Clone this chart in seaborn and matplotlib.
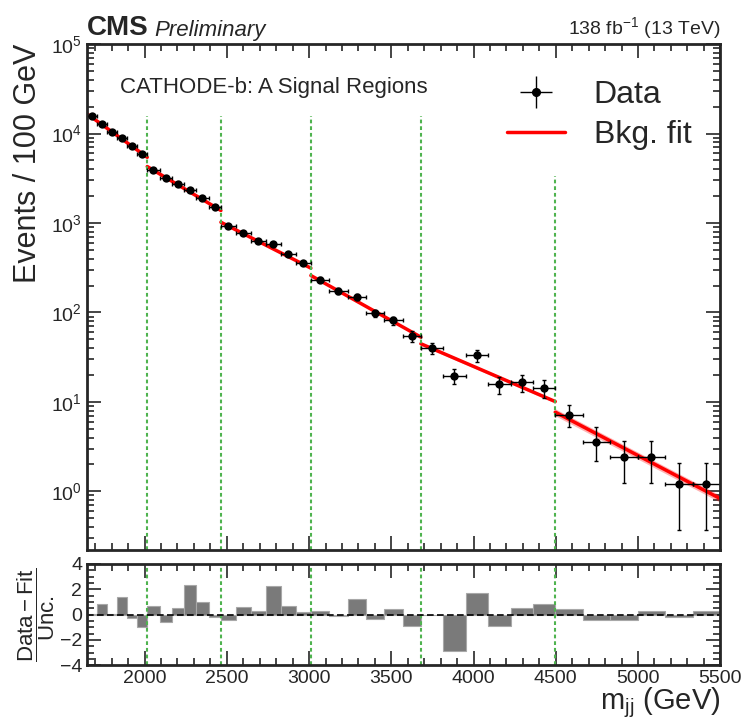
import numpy as np
import matplotlib
matplotlib.use("Agg")
import matplotlib.pyplot as plt
import seaborn as sns

# bin edges of the 6 signal regions (6 bins each), GeV
bin_edges = [1650, 1711, 1772, 1833, 1894, 1955,
             2016, 2091, 2165, 2240, 2315, 2389,
             2464, 2555, 2646, 2738, 2829, 2920,
             3011, 3123, 3234, 3346, 3457, 3569,
             3680, 3816, 3952, 4089, 4225, 4361,
             4497, 4664, 4831, 4998, 5166, 5333, 5500]
region_edges = [1650, 2016, 2464, 3011, 3680, 4497, 5500]

# events / 100 GeV
data_vals = [15600, 12900, 10500, 8870, 7220, 5930,
             3960, 3200, 2720, 2350, 1890, 1520,
             921, 783, 637, 580, 445, 356,
             232, 173, 148, 98, 81.4, 54.3,
             39.9, 19.6, 33.1, 15.8, 16.5, 14.3,
             7.2, 3.6, 2.4, 2.4, 1.2, 1.2]
err_lo = [160, 145, 131, 121, 109, 98,
          73, 65, 60, 56, 50, 45,
          32, 29, 26, 25, 22, 20,
          14.4, 12.4, 11.5, 9.4, 8.5, 7.0,
          5.4, 3.8, 4.9, 3.4, 3.5, 3.2,
          2.0, 1.4, 1.15, 1.15, 0.83, 0.83]
err_hi = [160, 145, 131, 121, 109, 98,
          73, 65, 60, 56, 50, 45,
          32, 29, 26, 25, 22, 20,
          14.4, 12.4, 11.5, 9.4, 8.5, 7.0,
          5.4, 3.8, 4.9, 3.4, 3.5, 3.2,
          2.1, 1.6, 1.3, 1.3, 0.9, 0.9]

# background fit per region (value at region start / end) and rel. uncertainty
fit_start = [16600, 4280, 1020, 259, 44.7, 7.69]
fit_end = [5430, 1380, 313, 53, 10.1, 0.83]
fit_unc = [0.01, 0.01, 0.015, 0.02, 0.04, 0.09]

# (data - fit) / unc.
pulls = [0.03, 0.83, 0.03, 1.41, -0.24, -1.0,
         0.69, -0.59, 0.53, 2.32, 0.99, -0.19,
         -0.45, 0.56, 0.29, 2.24, 0.69, 0.19,
         0.27, -0.1, 1.25, -0.37, 0.4, -0.88,
         -0.05, -2.88, 1.73, -0.88, 0.48, 0.8,
         0.43, -0.43, -0.4, 0.32, -0.19, 0.29]

sr_line_tops = [15800, 15800, 15800, 15800, 3390]

sns.set_style("ticks")
plt.rcParams['font.family'] = ['Liberation Sans', 'DejaVu Sans']
plt.rcParams['mathtext.fontset'] = 'custom'
plt.rcParams['mathtext.rm'] = 'Liberation Sans'
plt.rcParams['mathtext.it'] = 'Liberation Sans:italic'
plt.rcParams['mathtext.bf'] = 'Liberation Sans:bold'

edges = np.array(bin_edges)
centers = 0.5 * (edges[1:] + edges[:-1])
half_w = 0.5 * (edges[1:] - edges[:-1])

fig = plt.figure(figsize=(7.44, 7.23), dpi=100)
ax = fig.add_axes([0.117, 0.239, 0.851, 0.700])
rax = fig.add_axes([0.117, 0.080, 0.851, 0.140])

green = "#4fb34f"
gdash = (0, (1.8, 1.4))

# fit
for i in range(6):
    xs = [region_edges[i], region_edges[i + 1]]
    ys = np.array([fit_start[i], fit_end[i]])
    ax.fill_between(xs, ys * (1 - fit_unc[i]), ys * (1 + fit_unc[i]),
                    color="red", alpha=0.3, lw=0)
    sns.lineplot(x=xs, y=ys, ax=ax, color="red", lw=2.5,
                 label="Bkg. fit" if i == 0 else None, legend=False)

# signal region boundaries
for b, top in zip(region_edges[1:-1], sr_line_tops):
    ax.vlines(b, 0.22, top, colors=green, linestyles=gdash, lw=1.5)
    rax.axvline(b, color=green, ls=gdash, lw=1.5)

# data
ax.errorbar(centers, data_vals, xerr=half_w, yerr=[err_lo, err_hi],
            fmt="none", ecolor="black", elinewidth=1, capsize=1.5)
sns.scatterplot(x=centers, y=data_vals, ax=ax, color="black", s=36,
                edgecolor="black", linewidth=0, zorder=5)
data_handle = ax.errorbar([], [], xerr=[], yerr=[], fmt="o", color="black",
                          ms=5.5, elinewidth=1, capsize=1.5)

ax.set_yscale("log")
ax.set_xlim(1650, 5500)
ax.set_ylim(0.22, 1e5)
ax.set_xticks(range(2000, 5501, 500))
ax.set_xticks(range(1700, 5501, 100), minor=True)
ax.tick_params(labelbottom=False)
ax.set_ylabel("Events / 100 GeV", fontsize=22, loc="top", labelpad=6)

red_handle = ax.get_lines()[0]
ax.legend([data_handle, red_handle], ["Data", "Bkg. fit"], loc="upper right",
          bbox_to_anchor=(1.0, 0.985), frameon=False, fontsize=23,
          handlelength=1.8, handletextpad=0.9, labelspacing=0.3)

ax.text(0.052, 0.915, "CATHODE-b: A Signal Regions", transform=ax.transAxes,
        fontsize=16, va="center", ha="left")
ax.text(0.0, 1.006, "CMS", transform=ax.transAxes, fontsize=20,
        fontweight="bold", va="bottom", ha="left")
ax.text(0.107, 1.006, "Preliminary", transform=ax.transAxes, fontsize=16,
        style="italic", va="bottom", ha="left")
ax.text(1.0, 1.006, r"138 fb$^{-1}$ (13 TeV)", transform=ax.transAxes,
        fontsize=14, va="bottom", ha="right")

# ratio panel
sns.histplot(x=centers, weights=pulls, bins=bin_edges, ax=rax,
             color="#7a7a7a", alpha=1.0, edgecolor="#a8a8a8", linewidth=0.8)
rax.axhline(0, color="black", ls=(0, (4, 2)), lw=1.2)
rax.set_xlim(1650, 5500)
rax.set_ylim(-4, 4)
rax.set_xticks(range(2000, 5501, 500))
rax.set_xticks(range(1700, 5501, 100), minor=True)
rax.set_yticks([-4, -2, 0, 2, 4])
rax.set_yticks(np.arange(-4, 4.01, 0.5), minor=True)
rax.set_ylabel(r"$\dfrac{\mathrm{Data}-\mathrm{Fit}}{\mathrm{Unc.}}$",
               fontsize=16, labelpad=2)
rax.set_xlabel(r"m$_{\mathrm{jj}}$ (GeV)", fontsize=21, loc="right",
               labelpad=-1)

for a in (ax, rax):
    for s in a.spines.values():
        s.set_linewidth(2)
    a.tick_params(which="both", direction="in", top=True, right=True,
                  labelsize=14, width=1.2)
    a.tick_params(which="major", length=10)
    a.tick_params(which="minor", length=5)

fig.savefig("out.png", dpi=100)
